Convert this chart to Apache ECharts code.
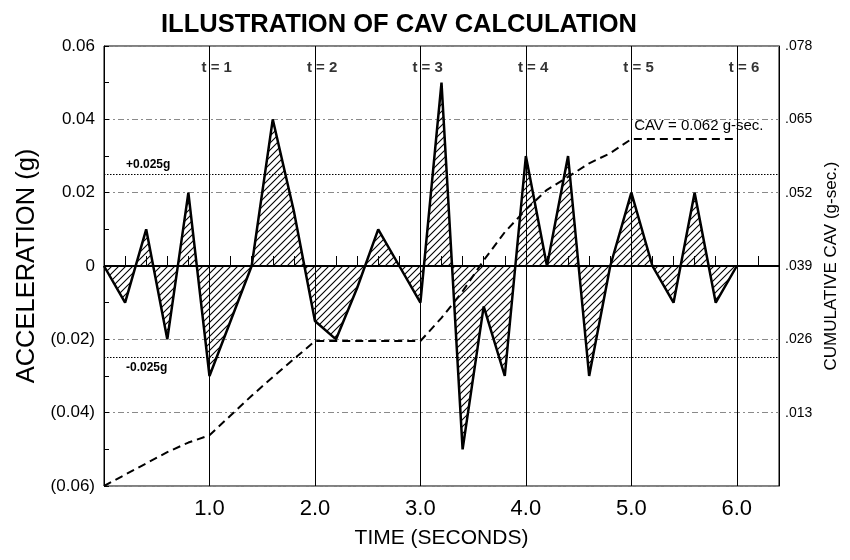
<!DOCTYPE html>
<html>
<head>
<meta charset="utf-8">
<script src="https://cdn.jsdelivr.net/npm/echarts@6/dist/echarts.min.js"></script>
<style>
  html, body { margin: 0; padding: 0; background: #fff; }
  #chart { width: 850px; height: 560px; }
</style>
</head>
<body>
<div id="chart"></div>
<script>
// sample times (s), 0.2 s step
const TIME = [0, 0.2, 0.4, 0.6, 0.8, 1.0, 1.2, 1.4, 1.6, 1.8, 2.0, 2.2, 2.4, 2.6, 2.8, 3.0,
  3.2, 3.4, 3.6, 3.8, 4.0, 4.2, 4.4, 4.6, 4.8, 5.0, 5.2, 5.4, 5.6, 5.8, 6.0];
// acceleration (g)
const ACCEL = [0, -0.01, 0.01, -0.02, 0.02, -0.03, -0.015, 0, 0.04, 0.015, -0.015, -0.02, -0.006, 0.01, 0, -0.01,
  0.05, -0.05, -0.011, -0.03, 0.03, 0, 0.03, -0.03, 0, 0.02, 0, -0.01, 0.02, -0.01, 0];
// cumulative CAV (g-sec), right axis
const CAV = [0, 0.002, 0.004, 0.006, 0.0077, 0.009, 0.0125, 0.016, 0.0193, 0.0225, 0.0257, 0.0257, 0.0257, 0.0257, 0.0257, 0.0257,
  0.0298, 0.0345, 0.040, 0.045, 0.049, 0.0525, 0.0548, 0.0572, 0.059, 0.0615, 0.0615, 0.0615, 0.0615, 0.0615, 0.0615];
const SECOND_MARKS = [1, 2, 3, 4, 5, 6];
const THRESHOLD = 0.025;
const CAV_LABEL = 'CAV = 0.062 g-sec.';

const FONT = '"Liberation Sans", Arial, sans-serif';

// diagonal hatch for the area under the acceleration trace
function hatch() {
  const c = document.createElement('canvas');
  c.width = 7; c.height = 7;
  const g = c.getContext('2d');
  g.strokeStyle = '#000';
  g.lineWidth = 1.1;
  g.beginPath();
  g.moveTo(0, 7); g.lineTo(7, 0);
  g.moveTo(-1, 1); g.lineTo(1, -1);
  g.moveTo(6, 8); g.lineTo(8, 6);
  g.stroke();
  return c;
}

const chart = echarts.init(document.getElementById('chart'), null, { renderer: 'canvas' });

const accelData = TIME.map((t, i) => [t, ACCEL[i]]);
const cavData = TIME.map((t, i) => [t, CAV[i]]);

chart.setOption({
  animation: false,
  backgroundColor: '#fff',
  textStyle: { fontFamily: FONT, color: '#000' },
  title: {
    text: 'ILLUSTRATION OF CAV CALCULATION',
    left: 156,
    top: 7,
    textStyle: { fontFamily: FONT, fontSize: 25.5, fontWeight: 'bold', color: '#000' }
  },
  grid: {
    left: 104, right: 71, top: 46, bottom: 74,
    show: true, borderColor: '#000', borderWidth: 1, backgroundColor: 'transparent'
  },
  xAxis: {
    type: 'value',
    min: 0, max: 6.4, interval: 0.2,
    name: 'TIME (SECONDS)',
    nameLocation: 'middle',
    nameGap: 42,
    nameTextStyle: { fontSize: 21, color: '#000', fontFamily: FONT },
    axisLine: { lineStyle: { color: '#000', width: 1 } },
    axisTick: { inside: true, length: 10, lineStyle: { color: '#000' } },
    axisLabel: {
      fontSize: 22, color: '#000', margin: 12,
      formatter: (v) => (v > 0.5 && Math.abs(v - Math.round(v)) < 1e-6) ? v.toFixed(1) : ''
    },
    splitLine: { show: false }
  },
  yAxis: [
    {
      type: 'value',
      min: -0.06, max: 0.06, interval: 0.02,
      name: 'ACCELERATION (g)',
      nameLocation: 'middle',
      nameRotate: 90,
      nameGap: 45,
      nameTextStyle: { fontSize: 25.5, color: '#000', fontFamily: FONT },
      axisLine: { show: true, lineStyle: { color: '#000' } },
      axisTick: { show: true, inside: true, length: 5, lineStyle: { color: '#000' } },
      minorTick: { show: true, splitNumber: 2, length: 5, lineStyle: { color: '#000' } },
      axisLabel: {
        fontSize: 17, color: '#000', margin: 9,
        formatter: (v) => {
          const r = Math.round(v * 100) / 100;
          if (r === 0) return '0';
          return r < 0 ? '(' + (-r).toFixed(2) + ')' : r.toFixed(2);
        }
      },
      splitLine: { show: true, lineStyle: { color: '#8a8a8a', width: 1, type: [6, 3, 2, 3] } }
    },
    {
      type: 'value',
      min: 0, max: 0.078, interval: 0.013,
      position: 'right',
      name: 'CUMULATIVE CAV (g-sec.)',
      nameLocation: 'middle',
      nameRotate: 90,
      nameGap: 42,
      nameTextStyle: { fontSize: 17, color: '#000', fontFamily: FONT },
      axisLine: { show: true, lineStyle: { color: '#000' } },
      axisTick: { show: false },
      axisLabel: {
        fontSize: 14, color: '#000', margin: 6,
        formatter: (v) => v < 0.001 ? '' : v.toFixed(3).replace(/^0/, '')
      },
      splitLine: { show: false }
    }
  ],
  series: [
    {
      name: 'Acceleration',
      type: 'line',
      yAxisIndex: 0,
      data: accelData,
      showSymbol: false,
      symbol: 'none',
      lineStyle: { color: '#000', width: 2.5 },
      areaStyle: { origin: 0, color: { image: hatch(), repeat: 'repeat' }, opacity: 1 },
      z: 3,
      markLine: {
        silent: true,
        precision: 4,
        symbol: ['none', 'none'],
        label: { show: false },
        data: [
          ...SECOND_MARKS.map((s) => ({ xAxis: s, lineStyle: { color: '#000', width: 1, type: 'solid' } })),
          { yAxis: 0, lineStyle: { color: '#000', width: 2, type: 'solid' } },
          {
            yAxis: THRESHOLD,
            lineStyle: { color: '#000', width: 1, type: [1.5, 1.5] },
            label: { show: true, formatter: '+0.025g', position: 'insideStartTop', distance: [22, 4], fontSize: 12, fontWeight: 'bold', color: '#000' }
          },
          {
            yAxis: -THRESHOLD,
            lineStyle: { color: '#000', width: 1, type: [1.5, 1.5] },
            label: { show: true, formatter: '-0.025g', position: 'insideStartBottom', distance: [22, 4], fontSize: 12, fontWeight: 'bold', color: '#000' }
          }
        ]
      }
    },
    {
      name: 'Second labels',
      type: 'scatter',
      yAxisIndex: 0,
      symbolSize: 0,
      silent: true,
      data: SECOND_MARKS.map((s) => ({ value: [s, 0.054], name: 't = ' + s })),
      label: {
        show: true,
        position: [-8, -8],
        formatter: (p) => p.name,
        fontSize: 15, fontWeight: 'bold', color: '#000'
      },
      z: 4
    },
    {
      name: 'Cumulative CAV',
      type: 'line',
      yAxisIndex: 1,
      data: cavData.map((d, i) => i === cavData.length - 1
        ? { value: d, label: { show: true, position: 'top', offset: [-38, -1], formatter: CAV_LABEL, fontSize: 15, color: '#000' } }
        : d),
      showSymbol: true,
      symbol: 'circle',
      symbolSize: 0,
      label: { show: false },
      lineStyle: { color: '#000', width: 2, type: [8, 5] },
      z: 5
    }
  ]
});
</script>
</body>
</html>
